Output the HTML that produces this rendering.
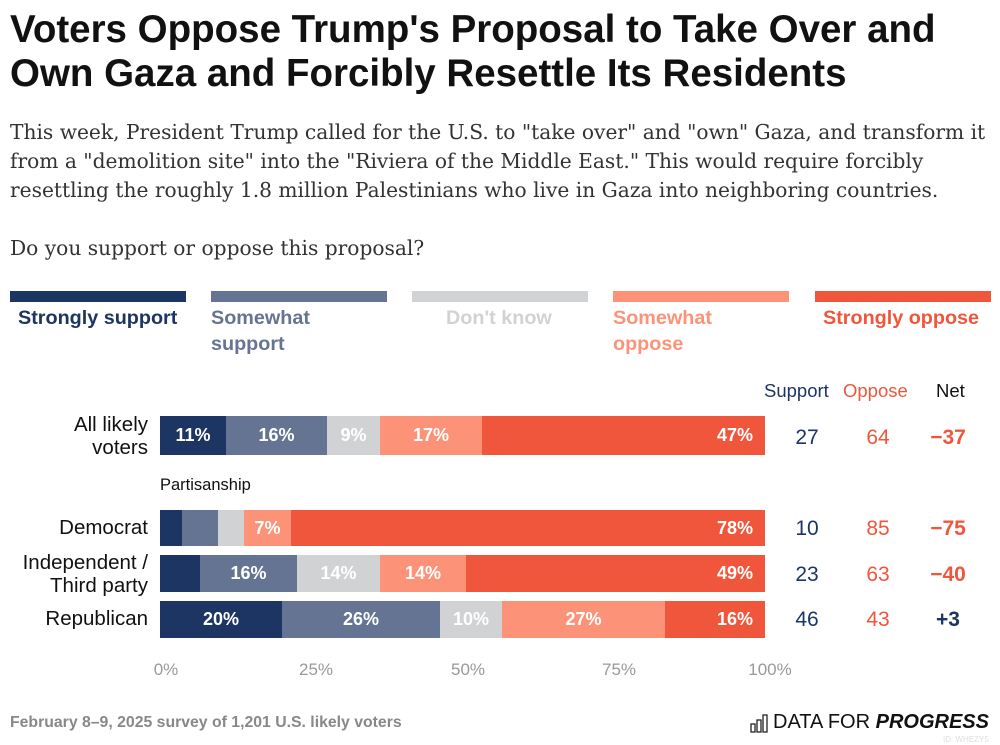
<!DOCTYPE html>
<html><head><meta charset="utf-8"><style>
body{margin:0;width:1000px;height:745px;background:#fff;font-family:"Liberation Sans",sans-serif;position:relative;overflow:hidden}
.a{position:absolute;white-space:nowrap}
h1{position:absolute;left:10px;top:8px;margin:0;font-size:38.5px;line-height:44px;font-weight:bold;color:#111;white-space:nowrap}
.sub{position:absolute;left:10px;top:118px;font-family:"DejaVu Serif",serif;font-size:20.2px;line-height:29px;color:#333;white-space:nowrap}
.lb{position:absolute;top:291px;height:11px;width:176px}
.lt{position:absolute;top:305px;font-size:19.8px;font-weight:bold;line-height:26px}
.seg{position:absolute;color:#fff;font-weight:bold;font-size:18px;display:flex;align-items:center;justify-content:center}
.rl{position:absolute;right:852px;text-align:right;font-size:20.5px;line-height:23px;color:#111}
.num{position:absolute;font-size:21px;text-align:center;width:60px}
.tk{position:absolute;top:660px;font-size:17px;color:#999;width:60px;text-align:center}
</style></head><body>
<h1>Voters Oppose Trump's Proposal to Take Over and<br>Own Gaza and Forcibly Resettle Its Residents</h1>
<div class="sub">This week, President Trump called for the U.S. to "take over" and "own" Gaza, and transform it<br>from a "demolition site" into the "Riviera of the Middle East." This would require forcibly<br>resettling the roughly 1.8 million Palestinians who live in Gaza into neighboring countries.<br><br>Do you support or oppose this proposal?</div>
<div class="lb" style="left:10px;background:#1c3563"></div>
<div class="lb" style="left:211px;background:#667494"></div>
<div class="lb" style="left:412px;background:#d1d2d4"></div>
<div class="lb" style="left:613px;background:#fc9378"></div>
<div class="lb" style="left:815px;background:#f0563b"></div>
<div class="lt" style="left:18px;color:#1c3563">Strongly support</div>
<div class="lt" style="left:211px;color:#667494">Somewhat<br>support</div>
<div class="lt" style="left:446px;color:#d1d2d4">Don't know</div>
<div class="lt" style="left:613px;color:#fc9378">Somewhat<br>oppose</div>
<div class="lt" style="left:823px;color:#f0563b">Strongly oppose</div>
<div class="a" style="left:764px;top:380px;font-size:18.5px;color:#1c3563">Support</div>
<div class="a" style="left:843px;top:380px;font-size:18.5px;color:#f0563b">Oppose</div>
<div class="a" style="left:936px;top:380px;font-size:18.5px;color:#111">Net</div>
<div class="rl" style="top:413px">All likely<br>voters</div>
<div class="a" style="left:160px;top:476px;font-size:16.5px;color:#111">Partisanship</div>
<div class="rl" style="top:516px">Democrat</div>
<div class="rl" style="top:551px">Independent /<br>Third party</div>
<div class="rl" style="top:607px">Republican</div>
<div class="seg" style="left:160px;top:416px;width:66px;height:39px;background:#1c3563">11%</div>
<div class="seg" style="left:226px;top:416px;width:101px;height:39px;background:#667494">16%</div>
<div class="seg" style="left:327px;top:416px;width:53px;height:39px;background:#d1d2d4">9%</div>
<div class="seg" style="left:380px;top:416px;width:102px;height:39px;background:#fc9378">17%</div>
<div class="seg" style="left:482px;top:416px;width:283px;height:39px;background:#f0563b;justify-content:flex-end;padding-right:12px;box-sizing:border-box">47%</div>
<div class="seg" style="left:160px;top:510px;width:22px;height:36px;background:#1c3563"></div>
<div class="seg" style="left:182px;top:510px;width:36px;height:36px;background:#667494"></div>
<div class="seg" style="left:218px;top:510px;width:26px;height:36px;background:#d1d2d4"></div>
<div class="seg" style="left:244px;top:510px;width:47px;height:36px;background:#fc9378">7%</div>
<div class="seg" style="left:291px;top:510px;width:474px;height:36px;background:#f0563b;justify-content:flex-end;padding-right:12px;box-sizing:border-box">78%</div>
<div class="seg" style="left:160px;top:555px;width:40px;height:37px;background:#1c3563"></div>
<div class="seg" style="left:200px;top:555px;width:97px;height:37px;background:#667494">16%</div>
<div class="seg" style="left:297px;top:555px;width:83px;height:37px;background:#d1d2d4">14%</div>
<div class="seg" style="left:380px;top:555px;width:86px;height:37px;background:#fc9378">14%</div>
<div class="seg" style="left:466px;top:555px;width:299px;height:37px;background:#f0563b;justify-content:flex-end;padding-right:12px;box-sizing:border-box">49%</div>
<div class="seg" style="left:160px;top:601px;width:122px;height:37px;background:#1c3563">20%</div>
<div class="seg" style="left:282px;top:601px;width:158px;height:37px;background:#667494">26%</div>
<div class="seg" style="left:440px;top:601px;width:62px;height:37px;background:#d1d2d4">10%</div>
<div class="seg" style="left:502px;top:601px;width:163px;height:37px;background:#fc9378">27%</div>
<div class="seg" style="left:665px;top:601px;width:100px;height:37px;background:#f0563b;justify-content:flex-end;padding-right:12px;box-sizing:border-box">16%</div>
<div class="num" style="left:777px;top:426px;color:#1c3563">27</div><div class="num" style="left:848px;top:426px;color:#f0563b">64</div><div class="num" style="left:918px;top:426px;color:#f0563b;font-weight:bold">−37</div>
<div class="num" style="left:777px;top:517px;color:#1c3563">10</div><div class="num" style="left:848px;top:517px;color:#f0563b">85</div><div class="num" style="left:918px;top:517px;color:#f0563b;font-weight:bold">−75</div>
<div class="num" style="left:777px;top:563px;color:#1c3563">23</div><div class="num" style="left:848px;top:563px;color:#f0563b">63</div><div class="num" style="left:918px;top:563px;color:#f0563b;font-weight:bold">−40</div>
<div class="num" style="left:777px;top:608px;color:#1c3563">46</div><div class="num" style="left:848px;top:608px;color:#f0563b">43</div><div class="num" style="left:918px;top:608px;color:#1c3563;font-weight:bold">+3</div>
<div class="tk" style="left:136px">0%</div><div class="tk" style="left:286px">25%</div><div class="tk" style="left:438px">50%</div><div class="tk" style="left:589px">75%</div><div class="tk" style="left:740px">100%</div>
<div class="a" style="left:10px;top:714px;font-size:15.8px;color:#888;font-weight:bold">February 8–9, 2025 survey of 1,201 U.S. likely voters</div>
<svg class="a" style="left:750px;top:713px" width="20" height="20" viewBox="0 0 20 20" fill="none" stroke="#222" stroke-width="1.3"><rect x="1" y="11" width="4" height="8"/><rect x="7" y="7" width="4" height="12"/><rect x="13" y="2" width="4" height="17"/></svg>
<div class="a" style="left:773px;top:711px;font-size:20px;color:#111">DATA FOR <b><i>PROGRESS</i></b></div>
<div class="a" style="left:943px;top:735px;font-size:8px;color:#ddd">ID: WHEZY5</div>
</body></html>
